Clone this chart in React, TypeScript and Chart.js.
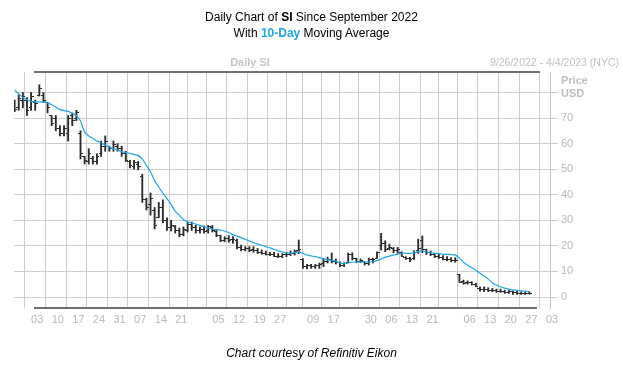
import React, { useEffect, useRef } from "react";
import { Chart, registerables } from "chart.js";

Chart.register(...registerables);

// Trading-day index 0 = 9/26/2022 ... 125 = 3/27/2023
const opens = [
  75, 74, 77, 77, 74, 76, 79, 79, 76, 71,
  70, 66, 64, 64, 71, 70, 64, 55, 53, 54,
  53, 56, 59, 59, 58, 59, 58, 56, 53, 51,
  52, 47, 38, 36, 34, 31, 35, 30, 27, 27.5,
  26, 24.5, 26, 28.5, 27, 26, 26.5, 26, 27, 25.5,
  24, 22, 23, 22.5, 22, 19.5, 18.5, 19, 18.5, 18,
  17.5, 17, 16.8, 16.5, 16, 15.8, 16.5, 16.8, 17.2, 18,
  14.5, 12, 12.2, 11.8, 12.2, 13, 14, 14.5, 14, 13.5,
  12.2, 13.5, 16.5, 15, 14, 13.8, 13, 14.5, 15.2, 20,
  21, 19, 19, 18, 17.5, 15.5, 15.2, 15, 18, 22,
  18.5, 17.5, 16.8, 15.8, 15.5, 14.8, 14.5, 14.2, 8.9, 6,
  5.5, 5.5, 5, 3.5, 2.8, 3, 2.6, 2.6, 2.3, 2.1,
  1.8, 2, 1.6, 1.5, 1.3, 1.5,
];
const highs = [
  77, 79, 80, 78, 80, 77, 83, 80, 76, 71,
  71, 67, 67, 71, 72, 73, 65, 55, 58, 55,
  56, 61, 63, 59, 61, 60, 59, 57, 53.5, 53.5,
  53, 48, 38.7, 40.7, 35, 37, 38, 31, 30, 28,
  27, 27.4, 29.3, 29.3, 28, 27.4, 27.8, 28, 28, 26.5,
  24.2, 23.6, 24, 23.6, 22.7, 20.3, 19.7, 19.7, 19.7, 19,
  18.4, 18, 17.5, 17.5, 17, 17, 17.5, 18, 18.4, 22.3,
  15, 12.8, 12.8, 12.8, 13.3, 14.9, 15.6, 17.2, 14.9, 13.8,
  13.4, 17.2, 17.3, 15.2, 14.9, 13.8, 15.2, 15.2, 17.7, 24.9,
  22, 20.7, 19.4, 19.4, 17.7, 15.8, 15.5, 18.1, 22.6, 23.9,
  18.7, 18, 17.1, 16.7, 16.2, 15.8, 15.4, 15.4, 8.9, 6.6,
  6.3, 6, 5.4, 4, 4, 3.6, 3.4, 3.1, 3.1, 2.7,
  2.7, 2.3, 2.3, 2, 2, 2,
];
const lows = [
  72.5, 73, 74, 71, 73, 73, 78.6, 76, 72, 67,
  65, 63, 63, 61, 67, 69, 54, 52, 52, 52,
  52, 55, 57, 57, 57, 57, 55, 53, 50.5, 50,
  49.7, 37, 34, 32, 26.6, 31, 29, 26, 25.8, 25,
  23.5, 23.9, 25.4, 26, 25, 25, 25, 25, 25.4, 23.6,
  21.6, 21.6, 21.4, 21, 18.8, 18, 18, 17.7, 17.5, 17,
  16.7, 16.4, 16.2, 15.8, 15.4, 15.4, 15.8, 16.2, 16.4, 17,
  11.2, 11, 11.2, 11.2, 11.2, 11.9, 13.3, 13.3, 12.9, 11.9,
  11.9, 13.3, 14.5, 13.4, 13.4, 12.5, 12.5, 13.3, 15.1, 18.4,
  17.7, 18.4, 17.3, 17.1, 15.8, 14.7, 13.8, 14.7, 17.1, 17.3,
  16.6, 16.2, 15.4, 15.1, 14.5, 14.1, 13.8, 13.6, 5.7, 5,
  5, 4.7, 4, 2.3, 2.1, 2.1, 2.1, 1.8, 1.8, 1.4,
  1.4, 1, 1, 1, 1, 1.1,
];
const closes = [
  73.5, 77.5, 78.5, 73, 78.5, 75.5, 81.5, 77, 74, 68,
  66, 64, 66, 70, 69, 72, 56, 53.5, 56, 53,
  55, 59, 61, 58, 59.5, 58, 56, 53.5, 51.5, 52.5,
  51, 38, 35, 38.5, 28, 35, 30, 27, 28, 26,
  24.5, 26.5, 28.5, 27, 26, 26.5, 25.5, 27.5, 26, 24,
  22, 23, 22, 22.5, 19.5, 18.5, 19, 18.2, 18, 17.5,
  17, 16.8, 16.5, 16, 15.8, 16.5, 16.8, 17.2, 17.8, 18.5,
  12, 12.2, 11.8, 12.3, 12.8, 14, 14.5, 14, 13.5, 12.2,
  13, 16.5, 15, 14, 14.2, 13, 14.8, 14.5, 17.5, 21,
  18.5, 19.5, 18, 18.5, 16, 15.2, 14.5, 17.5, 19, 18.5,
  17.5, 16.8, 15.8, 15.5, 14.8, 14.5, 14.2, 14.1, 5.7, 5.3,
  5.8, 5, 4.2, 2.8, 3, 2.5, 2.6, 2.3, 2.1, 1.8,
  2, 1.6, 1.5, 1.3, 1.5, 1.4,
];
const movingAvg = [
  81, 79.5, 78, 77.2, 76.5, 76.3, 76.3, 76.2, 75.9, 75.2,
  74.3, 73.3, 72.9, 72.6, 71.8, 70.9, 68.8, 64.5, 63, 62,
  61, 60.3, 59.4, 58.6, 58, 57.5, 56.8, 56.5, 56.2, 55.8,
  55.3, 54, 51.5, 49, 45.5, 43, 40.6, 38.5, 36.2, 33.5,
  32, 30.3, 29.4, 29, 28.5, 28, 27.4, 27, 26.5, 26.3,
  26.2, 25.8, 25.2, 24.4, 23.8, 23.2, 22.6, 21.9, 21.3, 20.7,
  20.2, 19.7, 19.2, 18.6, 18.1, 17.6, 17.3, 17.1, 17.4, 17.6,
  17.1, 16.5, 16.1, 15.8, 15.4, 15, 14.6, 14.3, 14, 13.3,
  13, 13.4, 13.6, 13.7, 13.7, 13.7, 13.7, 13.8, 14.2, 14.8,
  15.6, 16, 16.4, 16.8, 17.1, 17.1, 17.1, 17.3, 17.7, 18.1,
  17.6, 17.3, 17.1, 17, 16.8, 16.7, 16.6, 16.4, 15.3, 13.6,
  12.4, 11.4, 10.5, 9.3, 8.2, 7, 5.6, 4.6, 4, 3.5,
  3.1, 2.8, 2.6, 2.4, 2.3, 2.2,
];

// Weekly (Monday) grid positions and their labels
const weekTickIndex = [0, 5, 10, 15, 20, 25, 30, 35, 40, 44, 49, 54, 59, 64, 68, 72, 77, 81, 86, 91, 96, 101, 105, 110, 115, 120, 125, 130];
const weekTickLabels = ["", "03", "10", "17", "24", "31", "07", "14", "21", "", "05", "12", "19", "27", "", "09", "17", "", "30", "06", "13", "21", "", "06", "13", "20", "27", "03"];
const priceTicks = [0, 10, 20, 30, 40, 50, 60, 70, 80];
const priceTickLabels = ["0", "10", "20", "30", "40", "50", "60", "70", ""];

const BAR_COLOR = "#2a2a2a";
const MA_COLOR = "#1ea6ea";
const GRID_COLOR = "#cdcdcd";
const LABEL_COLOR = "#b8b8b8";

function makeTickImage(side: "open" | "close") {
  const c = document.createElement("canvas");
  c.width = 5;
  c.height = 1;
  const g = c.getContext("2d")!;
  g.fillStyle = BAR_COLOR;
  g.fillRect(side === "open" ? 0 : 3, 0, 2, 1);
  return c;
}

export default function App() {
  const ref = useRef<HTMLCanvasElement>(null);

  useEffect(() => {
    const canvas = ref.current!;
    const openImg = makeTickImage("open");
    const closeImg = makeTickImage("close");
    const chart = new Chart(canvas, {
      type: "bar",
      data: {
        datasets: [
          {
            type: "line",
            label: "10-Day MA",
            data: movingAvg.map((v, i) => ({ x: i, y: v })),
            borderColor: MA_COLOR,
            borderWidth: 1.2,
            pointRadius: 0,
            tension: 0.25,
            fill: false,
          } as any,
          {
            type: "bar",
            label: "High-Low",
            data: highs.map((h, i) => ({ x: i, y: [lows[i], h] })),
            backgroundColor: BAR_COLOR,
            borderWidth: 0,
            barThickness: 1.2,
          } as any,
          {
            type: "line",
            label: "Open",
            data: opens.map((v, i) => ({ x: i, y: v })),
            showLine: false,
            pointStyle: openImg,
            pointRadius: 2,
          } as any,
          {
            type: "line",
            label: "Close",
            data: closes.map((v, i) => ({ x: i, y: v })),
            showLine: false,
            pointStyle: closeImg,
            pointRadius: 2,
          } as any,
        ],
      },
      options: {
        responsive: false,
        animation: false,
        devicePixelRatio: 1,
        layout: { padding: { left: 14, top: 72, right: 0, bottom: 0 } },
        plugins: { legend: { display: false }, tooltip: { enabled: false }, title: { display: false } },
        scales: {
          x: {
            type: "linear",
            min: -0.15,
            max: 130,
            offset: false,
            border: { display: false },
            grid: { color: GRID_COLOR, lineWidth: 1, drawTicks: false },
            afterBuildTicks: (axis: any) => {
              axis.ticks = weekTickIndex.map((v) => ({ value: v }));
            },
            afterFit: (axis: any) => {
              axis.height = 65;
            },
            ticks: {
              autoSkip: false,
              maxRotation: 0,
              padding: 5,
              labelOffset: 2,
              color: LABEL_COLOR,
              font: { family: "'Liberation Sans', Arial, sans-serif", size: 11 },
              callback: (value: any) => {
                const k = weekTickIndex.indexOf(Number(value));
                return k >= 0 ? weekTickLabels[k] : "";
              },
            },
          },
          y: {
            type: "linear",
            position: "right",
            min: -4.3,
            max: 88,
            border: { display: true, color: "#c4c4c4" },
            grid: { color: GRID_COLOR, lineWidth: 1, tickLength: 8 },
            afterBuildTicks: (axis: any) => {
              axis.ticks = priceTicks.map((v) => ({ value: v }));
            },
            afterFit: (axis: any) => {
              axis.width = 73;
            },
            ticks: {
              padding: 3,
              color: LABEL_COLOR,
              font: { family: "'Liberation Sans', Arial, sans-serif", size: 11 },
              callback: (value: any) => {
                const k = priceTicks.indexOf(Number(value));
                return k >= 0 ? priceTickLabels[k] : "";
              },
            },
          },
        },
      } as any,
    });
    return () => chart.destroy();
  }, []);

  const font = "'Liberation Sans', Arial, sans-serif";
  return (
    <div
      style={{
        position: "absolute",
        left: 0,
        top: 0,
        width: 623,
        height: 373,
        background: "#ffffff",
        overflow: "hidden",
        fontFamily: font,
      }}
    >
      <canvas ref={ref} width={623} height={373} style={{ position: "absolute", left: 0, top: 0, width: 623, height: 373 }} />
      <div style={{ position: "absolute", left: 0, top: 9, width: 623, textAlign: "center", fontSize: 12, lineHeight: "16px", color: "#000" }}>
        <div>
          Daily Chart of <b>SI</b> Since September 2022
        </div>
        <div>
          With <b style={{ color: MA_COLOR }}>10-Day</b> Moving Average
        </div>
      </div>
      <div style={{ position: "absolute", left: 200, top: 56, width: 100, textAlign: "center", fontSize: 11, lineHeight: "12px", fontWeight: "bold", color: "#c6c6c6" }}>
        Daily SI
      </div>
      <div style={{ position: "absolute", right: 4, top: 56, fontSize: 10.5, lineHeight: "12px", color: "#c0c0c0", whiteSpace: "nowrap" }}>
        9/26/2022 - 4/4/2023 (NYC)
      </div>
      <div style={{ position: "absolute", left: 561, top: 74, fontSize: 11, lineHeight: "13px", fontWeight: "bold", color: "#c0c0c0" }}>
        <div>Price</div>
        <div>USD</div>
      </div>
      <div style={{ position: "absolute", left: 34, top: 71, width: 506, height: 2, background: "#707070" }} />
      <div style={{ position: "absolute", left: 34, top: 307, width: 503, height: 2, background: "#707070" }} />
      <div style={{ position: "absolute", left: 0, top: 346, width: 623, textAlign: "center", fontSize: 12, lineHeight: "14px", fontStyle: "italic", color: "#000" }}>
        Chart courtesy of Refinitiv Eikon
      </div>
    </div>
  );
}
